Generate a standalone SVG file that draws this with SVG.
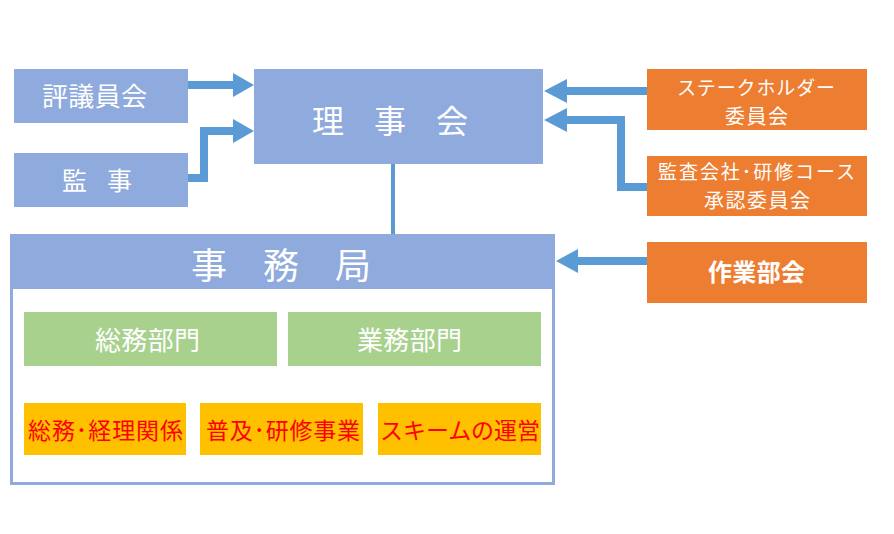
<svg xmlns="http://www.w3.org/2000/svg" width="894" height="534" viewBox="0 0 894 534">
<defs>
<style>
text{font-family:"Noto Sans CJK JP","Noto Sans CJK SC",sans-serif;dominant-baseline:central}
.blue{fill:#8FAADC}
.orange{fill:#ED7D31}
.green{fill:#A9D18E}
.yellow{fill:#FFC000}
.w{fill:#FFFFFF}
.r{fill:#FF0000}
.conn{fill:none;stroke:#5B9BD5;stroke-width:8}
.head{fill:#5B9BD5}
</style>
</defs>
<rect width="894" height="534" fill="#FFFFFF"/>
<g id="connectors">
<line x1="393" y1="164" x2="393" y2="236" stroke="#5B9BD5" stroke-width="4"/>
<polyline class="conn" points="188,85 234,85"/>
<polygon class="head" points="233,73 254,85 233,97"/>
<polyline class="conn" points="188,178 204,178 204,131 234,131"/>
<polygon class="head" points="233,119 254,131 233,143"/>
<polyline class="conn" points="647,91 566,91"/>
<polygon class="head" points="567,79 544,91 567,103"/>
<polyline class="conn" points="647,187 621,187 621,120 566,120"/>
<polygon class="head" points="567,108 544,120 567,132"/>
<polyline class="conn" points="647,261 577,261"/>
<polygon class="head" points="578,249 556,261 578,273"/>
</g>
<g id="hyogiinkai">
<rect class="blue" x="14" y="69" width="174" height="54"/>
<text class="w" x="42" y="94" font-size="26" textLength="105">評議員会</text>
</g>
<g id="kanji">
<rect class="blue" x="14" y="153" width="174" height="54"/>
<text class="w" x="62" y="179" font-size="25" letter-spacing="20">監事</text>
</g>
<g id="rijikai">
<rect class="blue" x="254" y="69" width="289" height="95"/>
<text class="w" x="312" y="119" font-size="32" letter-spacing="30">理事会</text>
</g>
<g id="stakeholder">
<rect class="orange" x="647" y="69" width="220" height="61"/>
<text class="w" x="677" y="86" font-size="19" textLength="158">ステークホルダー</text>
<text class="w" x="725" y="115" font-size="20" textLength="63">委員会</text>
</g>
<g id="kansa">
<rect class="orange" x="647" y="156" width="220" height="60"/>
<text class="w" x="658" y="170" font-size="19" textLength="197">監査会社･研修コース</text>
<text class="w" x="704" y="199" font-size="20" textLength="106">承認委員会</text>
</g>
<g id="sagyobukai">
<rect class="orange" x="647" y="242" width="220" height="61"/>
<text class="w" x="708" y="270" font-size="24" font-weight="bold" textLength="97">作業部会</text>
</g>
<g id="jimukyoku">
<rect x="11.5" y="235.5" width="542" height="248" fill="#FFFFFF" stroke="#8FAADC" stroke-width="3"/>
<rect class="blue" x="10" y="234" width="545" height="55"/>
<text class="w" x="191" y="263" font-size="36" letter-spacing="36">事務局</text>
</g>
<g id="somubumon">
<rect class="green" x="24" y="312" width="253" height="54"/>
<text class="w" x="95" y="338" font-size="26" textLength="105">総務部門</text>
</g>
<g id="gyomubumon">
<rect class="green" x="288" y="312" width="253" height="54"/>
<text class="w" x="357" y="338" font-size="26" textLength="105">業務部門</text>
</g>
<g id="somukeiri">
<rect class="yellow" x="24" y="403" width="162" height="52"/>
<text class="r" x="28" y="429" font-size="23" textLength="155">総務･経理関係</text>
</g>
<g id="fukyu">
<rect class="yellow" x="200" y="403" width="163" height="52"/>
<text class="r" x="206" y="429" font-size="23" textLength="154">普及･研修事業</text>
</g>
<g id="scheme">
<rect class="yellow" x="378" y="403" width="163" height="52"/>
<text class="r" x="380" y="429" font-size="23" textLength="160">スキームの運営</text>
</g>
</svg>
